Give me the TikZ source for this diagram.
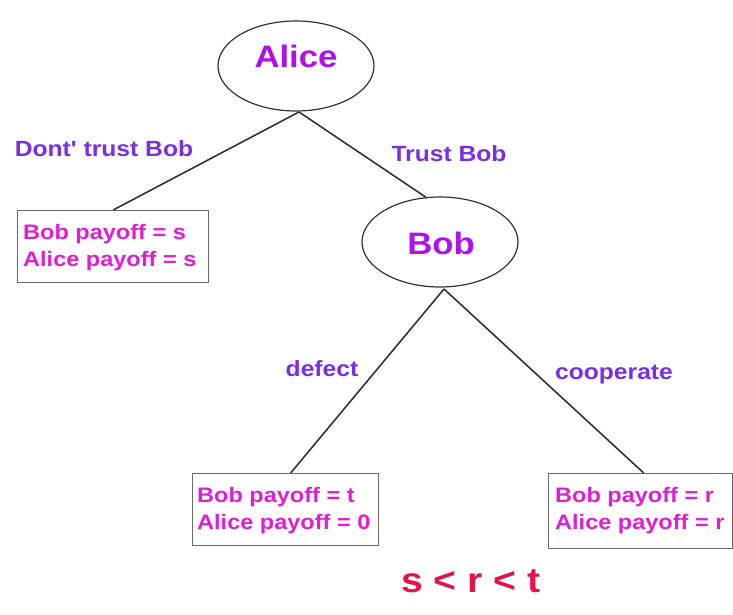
\documentclass[tikz,border=0pt]{standalone}
\usepackage{fontspec}
\usetikzlibrary{shapes.geometric}
\newfontfamily\lab[FakeStretch=1.12]{Liberation Sans}
\definecolor{playercol}{HTML}{B010EA}
\definecolor{movecol}{HTML}{7A2FE2}
\definecolor{paycol}{HTML}{E01ED6}
\definecolor{relcol}{HTML}{E2164C}
\definecolor{linecol}{HTML}{333333}
\definecolor{boxcol}{HTML}{6A6A6A}
\tikzset{
  player/.style={draw=linecol, line width=1.2pt, ellipse, inner sep=0pt, minimum width=156pt, minimum height=90pt},
  playertext/.style={anchor=base, inner sep=0pt, text=playercol, font=\lab\bfseries\fontsize{31}{31}\selectfont},
  movetext/.style={anchor=base, inner sep=0pt, text=movecol, font=\lab\bfseries\fontsize{22}{22}\selectfont},
  paybox/.style={draw=boxcol, line width=1.4pt, rectangle, inner sep=0pt, anchor=north west},
  paytext/.style={anchor=base west, inner sep=0pt, text=paycol, font=\lab\bfseries\fontsize{21}{21}\selectfont},
  edge/.style={draw=linecol, line width=1.6pt},
}
\begin{document}
\begin{tikzpicture}[x=1pt,y=1pt]
\useasboundingbox (0,0) rectangle (733,615);
% players
\node[player] (alice) at (296,549) {};
\node[playertext] (alicet) at (296,547) {Alice};
\node[player] (bob) at (440,373) {};
\node[playertext] (bobt) at (441,360) {Bob};
% payoff boxes
\node[paybox, minimum width=191pt, minimum height=72pt] (box1) at (17,405) {};
\node[paybox, minimum width=186pt, minimum height=72pt] (box2) at (192,142) {};
\node[paybox, minimum width=184pt, minimum height=75pt] (box3) at (548,142) {};
\node[paytext] (b1a) at (23,375) {Bob payoff = s};
\node[paytext] (b1b) at (23,348) {Alice payoff = s};
\node[paytext] (b2a) at (197,112) {Bob payoff = t};
\node[paytext] (b2b) at (197,85) {Alice payoff = 0};
\node[paytext] (b3a) at (555,112) {Bob payoff = r};
\node[paytext] (b3b) at (555,85) {Alice payoff = r};
% connectors
\coordinate (aroot) at (299,503);
\coordinate (broot) at (444,326);
\draw[edge] (aroot) -- (box1.north);
\draw[edge] (aroot) -- (427,417) coordinate (btop);
\draw[edge] (broot) -- ([xshift=5pt]box2.north);
\draw[edge] (broot) -- ([xshift=3pt]box3.north);
% move labels
\node[movetext] (m1) at (104,458) {Dont' trust Bob};
\node[movetext] (m2) at (449,453) {Trust Bob};
\node[movetext] (m3) at (322,238) {defect};
\node[movetext] (m4) at (614,235) {cooperate};
% relation
\node[anchor=base, inner sep=0pt, text=relcol, font=\lab\bfseries\fontsize{35}{35}\selectfont] (rel) at (471,22) {s < r < t};
\end{tikzpicture}
\end{document}
